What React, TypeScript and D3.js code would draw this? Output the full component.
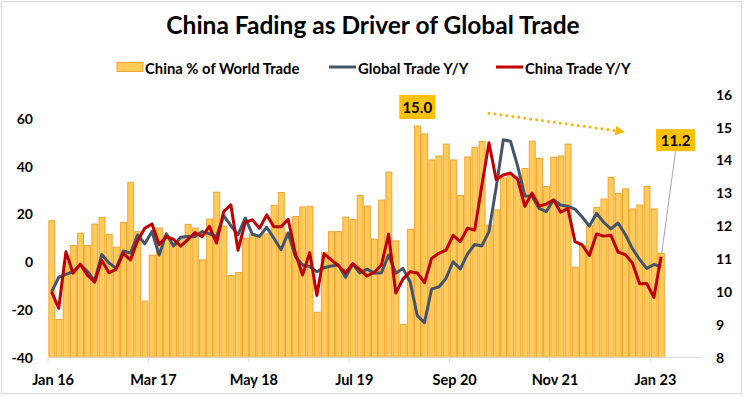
import * as d3 from "d3";

// monthly, Jan 16 .. Feb 23
const months = d3.timeMonth.range(new Date(2016, 0, 1), new Date(2023, 2, 1));
const fmt = d3.timeFormat("%b %y");
const tickLabels = ["Jan 16", "Mar 17", "May 18", "Jul 19", "Sep 20", "Nov 21", "Jan 23"];
const slotCount = 91; // axis runs a few empty months past the data

// China % of World Trade (right axis)
const chinaShare = [
  12.15, 9.15, 10.9, 11.4, 11.77, 11.4, 12.05, 12.25, 11.74, 11.35, 12.1, 13.32, 11.82, 9.71, 11.1, 11.93,
  11.7, 11.5, 11.6, 12.04, 11.93, 10.96, 12.2, 13.02, 11.99, 10.49, 10.58, 11.62, 11.75, 11.7, 11.75, 12.62,
  13.01, 11.8, 12.28, 12.57, 12.59, 9.37, 11.19, 11.82, 11.82, 12.26, 12.19, 12.92, 12.6, 11.59, 12.78, 13.63,
  11.54, 9.0, 11.89, 15.03, 14.79, 14.0, 14.12, 14.48, 14.0, 12.92, 14.09, 14.38, 14.56, 12.02, 12.48, 13.45,
  13.55, 13.5, 13.74, 14.57, 14.05, 13.19, 14.08, 14.12, 14.48, 10.74, 11.4, 12.0, 12.55, 12.81, 13.47, 12.98,
  13.12, 12.51, 12.63, 13.19, 12.51, 11.16,
];

// Global Trade Y/Y (left axis)
const globalYoY = [
  -12.6, -6.5, -5.3, -4.2, -1.2, -4.0, -8.0, 3.0, -0.5, -2.8, 4.5, 3.6, 11.2, 7.5, 12.6, 2.8,
  11.7, 6.6, 10.2, 10.5, 10.5, 12.6, 11.7, 10.5, 19.3, 15.1, 11.2, 18.3, 11.5, 10.6, 14.4, 9.8,
  5.0, 12.0, 2.1, -1.4, -2.0, -4.2, -2.5, -1.8, -1.4, -6.5, -1.0, -4.7, -3.1, -4.8, -4.6, 2.8,
  -4.8, -2.8, -8.4, -22.5, -25.5, -11.4, -10.6, -7.0, 0.0, -3.0, 3.2, 7.2, 6.6, 12.6, 31.0, 51.0,
  50.4, 40.0, 27.5, 27.4, 22.3, 21.0, 25.8, 23.7, 23.2, 22.0, 18.7, 14.9, 20.2, 16.5, 13.7, 16.2,
  11.5, 5.5, 1.0, -2.8, -1.2, -2.0,
];

// China Trade Y/Y (left axis)
const chinaYoY = [
  -12.6, -19.5, 4.2, -4.8, -1.0, -5.6, -8.6, 0.6, -4.6, -3.2, 3.5, 0.7, 8.8, 14.0, 15.8, 7.2,
  10.4, 9.4, 6.5, 9.2, 12.2, 10.5, 14.8, 7.8, 21.0, 23.8, 4.8, 16.5, 17.5, 14.0, 19.6, 14.6,
  14.6, 17.7, 3.5, -5.6, 3.8, -14.1, 3.3, 0.8, -1.7, -4.6, -0.8, -3.3, -6.0, -4.4, -1.4, 11.5,
  -13.1, -7.3, -4.2, -4.7, -8.8, 1.4, 3.5, 4.8, 11.0, 8.4, 14.0, 13.2, 31.8, 49.8, 34.4, 36.3,
  37.1, 34.4, 23.2, 28.7, 23.3, 24.1, 25.8, 20.7, 22.3, 8.4, 7.0, 2.6, 11.6, 10.7, 11.1, 4.0,
  3.0, -0.5, -9.2, -9.1, -14.9, 2.1,
];

const leftTicks = [-40, -20, 0, 20, 40, 60];
const rightTicks = [8, 9, 10, 11, 12, 13, 14, 15, 16];

const W = 744;
const H = 396;
const font = "Lato, 'Open Sans', sans-serif";
const barFill = "#FFCB57";
const barStroke = "#F2A33A";
const gold = "#F5B700";

export default function App() {
  const x = d3
    .scaleBand<number>()
    .domain(d3.range(slotCount))
    .range([48, 700.5])
    .paddingInner(0.1)
    .paddingOuter(0.05);
  const bw = x.bandwidth();
  // centre of slot i (fractional slots allowed for annotations)
  const cx = (i: number) => (x(0) as number) + bw / 2 + i * x.step();

  const yL = d3.scaleLinear().domain([-40, 70]).range([357.3, 94.4]);
  const yR = d3.scaleLinear().domain([8, 16]).range([357.3, 94.1]);

  const line = d3
    .line<number>()
    .x((_, i) => cx(i))
    .y((d) => yL(d));

  const tickIdx = tickLabels.map((t) => months.findIndex((m) => fmt(m) === t));
  const boundaryIdx = d3.range(0, slotCount, 14);

  const peak = d3.maxIndex(chinaShare);
  const last = chinaShare.length - 1;

  // dotted trend arrow over the peak period
  const a0 = { x: cx(61), y: yR(15.42) };
  const a1 = { x: cx(79.3), y: yR(14.87) };

  const lbl1 = { x: cx(peak), y: yR(chinaShare[peak]) - 19 };
  const lbl2 = { x: cx(last) + 14.5, y: yR(14.6) };

  return (
    <svg
      width={W}
      height={H}
      style={{ position: "fixed", left: 0, top: 0, background: "#fff" }}
      fontFamily={font}
    >
      <defs>
        <marker id="arr" viewBox="0 0 10 10" refX="5" refY="5" markerWidth="3.2" markerHeight="3.2" orient="auto">
          <path d="M0,0 L10,5 L0,10 z" fill={gold} />
        </marker>
      </defs>
      <rect x={1.5} y={1.5} width={W - 4} height={H - 4} fill="#fff" stroke="#d9d9d9" />

      <text x={W / 2 + 1} y={34} textAnchor="middle" fontSize={24.5} fontWeight={700} fill="#000">
        China Fading as Driver of Global Trade
      </text>

      {/* legend */}
      <g fontSize={14.8} fontWeight={700} fill="#000">
        <rect x={117} y={62.5} width={26} height={9} fill={barFill} stroke={barStroke} />
        <text x={145} y={67.5} dominantBaseline="central">China % of World Trade</text>
        <line x1={329} x2={356} y1={67} y2={67} stroke="#44546A" strokeWidth={3} />
        <text x={358} y={67.5} dominantBaseline="central">Global Trade Y/Y</text>
        <line x1={496} x2={523} y1={67} y2={67} stroke="#C00000" strokeWidth={3} />
        <text x={525} y={67.5} dominantBaseline="central">China Trade Y/Y</text>
      </g>

      {/* bars */}
      {chinaShare.map((v, i) => (
        <rect
          key={i}
          x={(x(i) as number) + 0.5}
          y={yR(v)}
          width={bw - 0.5}
          height={yR(8) - yR(v)}
          fill={barFill}
          stroke={barStroke}
          strokeWidth={1}
        />
      ))}

      {/* category axis */}
      <line x1={48} x2={700.5} y1={yR(8)} y2={yR(8)} stroke="#d9d9d9" />
      {boundaryIdx.map((i) => (
        <line
          key={i}
          x1={(x(i) as number) - (x.step() * x.paddingInner()) / 2}
          x2={(x(i) as number) - (x.step() * x.paddingInner()) / 2}
          y1={yR(8)}
          y2={yR(8) + 5}
          stroke="#d9d9d9"
        />
      ))}
      <g fontSize={14.5} fontWeight={700} fill="#000" textAnchor="middle">
        {tickLabels.map((t, k) => (
          <text key={t} x={cx(tickIdx[k]) + 1.5} y={385}>
            {t}
          </text>
        ))}
      </g>

      {/* lines */}
      <path d={line(globalYoY) ?? ""} fill="none" stroke="#44546A" strokeWidth={3} strokeLinejoin="round" />
      <path d={line(chinaYoY) ?? ""} fill="none" stroke="#C00000" strokeWidth={3} strokeLinejoin="round" />

      {/* left axis */}
      <g fontSize={14} fontWeight={700} fill="#000" textAnchor="end">
        {leftTicks.map((t) => (
          <text key={t} x={33} y={yL(t)} dominantBaseline="central">
            {t}
          </text>
        ))}
      </g>
      {/* right axis */}
      <g fontSize={14} fontWeight={700} fill="#000" textAnchor="start">
        {rightTicks.map((t) => (
          <text key={t} x={716} y={yR(t)} dominantBaseline="central">
            {t}
          </text>
        ))}
      </g>

      {/* annotations */}
      <line
        x1={a0.x}
        y1={a0.y}
        x2={a1.x}
        y2={a1.y}
        stroke={gold}
        strokeWidth={3}
        strokeDasharray="0 6"
        strokeLinecap="round"
        markerEnd="url(#arr)"
      />
      <g>
        <rect x={lbl1.x - 18} y={lbl1.y - 12} width={36} height={24} fill="#FFC000" />
        <text x={lbl1.x} y={lbl1.y} textAnchor="middle" dominantBaseline="central" fontSize={15} fontWeight={700}>
          {chinaShare[peak].toFixed(1)}
        </text>
      </g>
      <line x1={lbl2.x} y1={lbl2.y + 11} x2={cx(last) + 0.5} y2={yR(chinaShare[last]) + 1} stroke="#a6a6a6" strokeWidth={1} />
      <g>
        <rect x={lbl2.x - 19.5} y={lbl2.y - 11} width={39} height={22} fill="#FFC000" />
        <text x={lbl2.x} y={lbl2.y} textAnchor="middle" dominantBaseline="central" fontSize={15} fontWeight={700}>
          {chinaShare[last].toFixed(1)}
        </text>
      </g>
    </svg>
  );
}
